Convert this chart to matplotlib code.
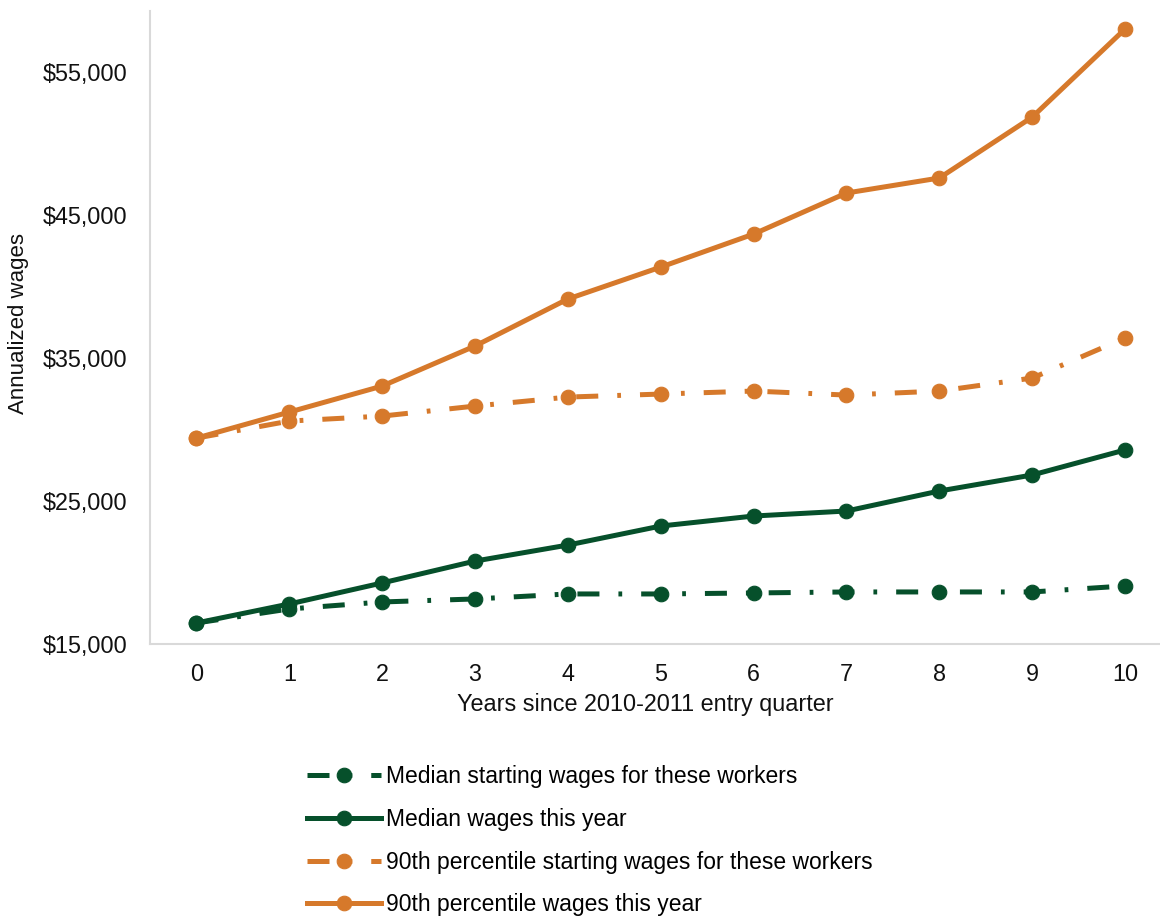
import matplotlib
matplotlib.use("Agg")
import matplotlib.pyplot as plt
from matplotlib.ticker import FuncFormatter

plt.rcParams['font.family'] = ['Liberation Sans', 'DejaVu Sans']

years = list(range(0, 11))
median_start = [16470, 17450, 17940, 18150, 18500, 18500, 18570, 18640, 18640, 18640, 19060]
median_now = [16470, 17800, 19270, 20800, 21920, 23250, 23950, 24300, 25700, 26820, 28570]
p90_start = [29400, 30590, 30940, 31640, 32270, 32480, 32690, 32410, 32690, 33600, 36400]
p90_now = [29400, 31220, 33040, 35840, 39130, 41360, 43670, 46540, 47590, 51850, 58010]

labels = ["Median starting wages for these workers",
          "Median wages this year",
          "90th percentile starting wages for these workers",
          "90th percentile wages this year"]
yticks = [15000, 25000, 35000, 45000, 55000]

GREEN = "#06502b"
ORANGE = "#d6792b"
dashdot = (0, (4.4, 3.8, 0.75, 3.8))

fig = plt.figure(figsize=(11.6, 9.18), dpi=100)
ax = fig.add_axes([150/1160, 1-644/918, (1171.5-150)/1160, (644-11)/918])

lw = 3.6
ms = 10.5
mew = 0.8
ax.plot(years, median_now, color=GREEN, lw=lw, marker='o', ms=ms, mew=mew, label=labels[1], zorder=3)
ax.plot(years, median_start, color=GREEN, lw=lw, marker='o', ms=ms, mew=mew, linestyle=dashdot, label=labels[0], zorder=4)
ax.plot(years, p90_now, color=ORANGE, lw=lw, marker='o', ms=ms, mew=mew, label=labels[3], zorder=3)
ax.plot(years, p90_start, color=ORANGE, lw=lw, marker='o', ms=ms, mew=mew, linestyle=dashdot, label=labels[2], zorder=4)

ax.set_xlim(-0.5, 10.5)
ax.set_ylim(15000, 59270)
ax.set_xticks(years)
ax.set_yticks(yticks)
ax.yaxis.set_major_formatter(FuncFormatter(lambda v, p: "${:,.0f}".format(v)))
ax.tick_params(axis='both', length=0, labelsize=16.8, colors='#111111')
ax.tick_params(axis='y', pad=16)
ax.tick_params(axis='x', pad=14)

for s in ['top', 'right']:
    ax.spines[s].set_visible(False)
for s in ['left', 'bottom']:
    ax.spines[s].set_color('#d9d9d9')
    ax.spines[s].set_linewidth(1.5)

ax.set_ylabel("Annualized wages", fontsize=16, color='#111111')
ax.yaxis.set_label_coords(-(150-19)/(1171.5-150), (644-323)/(644-11))
ax.set_xlabel("Years since 2010-2011 entry quarter", fontsize=16.8, color='#111111')
ax.xaxis.set_label_coords((645-150)/(1171.5-150), -(705-644)/(644-11))
ax.xaxis.label.set_va('center')
ax.yaxis.label.set_va('center')

handles, labs = ax.get_legend_handles_labels()
order = [labs.index(l) for l in labels]
leg = fig.legend([handles[i] for i in order], [labs[i] for i in order],
                 loc='upper left', bbox_to_anchor=(298/1160, 1-756/918),
                 frameon=False, fontsize=16.5, handlelength=3.2, handletextpad=0.22,
                 labelspacing=0.86, borderaxespad=0)

fig.savefig("out.png", dpi=100)
